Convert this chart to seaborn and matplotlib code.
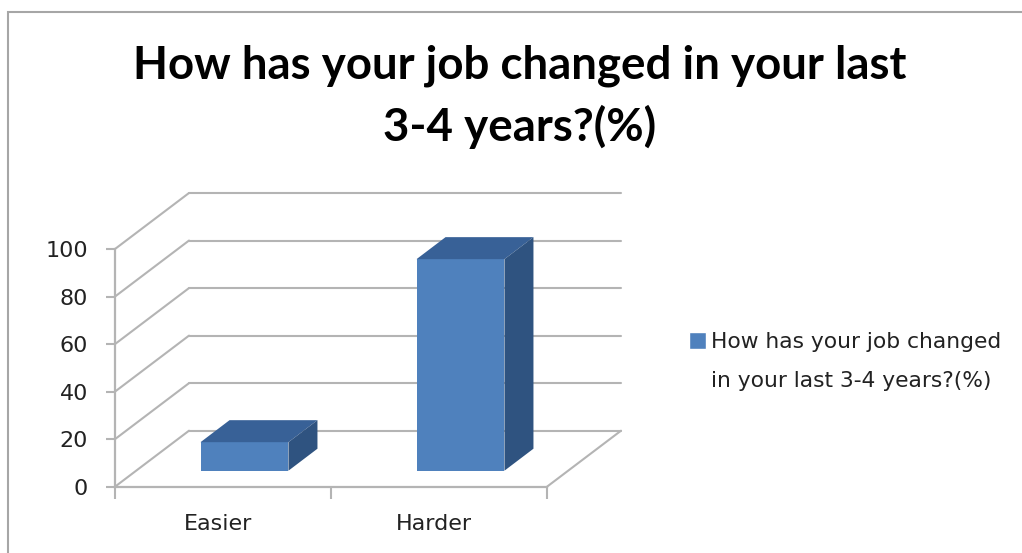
import matplotlib
matplotlib.use("Agg")
import matplotlib.pyplot as plt
import pandas as pd
import seaborn as sns
from matplotlib.lines import Line2D
from matplotlib.patches import Patch, Polygon, Rectangle
from matplotlib.transforms import Affine2D

categories = ["Easier", "Harder"]
values = [12, 89]
y_ticks = [0, 20, 40, 60, 80, 100]
title_lines = ["How has your job changed in your last", "3-4 years?(%)"]
legend_lines = ["How has your job changed", "in your last 3-4 years?(%)"]

FRONT = "#4f81bd"
TOP = "#386197"
SIDE = "#2f5380"
GRID = "#b4b4b4"
W, H = 1022, 553

# pixel offsets used to fake the 3d look
WALL_DX, WALL_DY = 74, 56
BAR_SHIFT = (21.5, 16)
BAR_DX, BAR_DY = 29, 22

sns.set_theme(style="white")
fig = plt.figure(figsize=(W / 100, H / 100), dpi=100)
ax = fig.add_axes([115 / W, (H - 486.7) / H, 432 / W, 237.7 / H])
ax.patch.set_alpha(0)

df = pd.DataFrame({"answer": categories, "percent": values})
sns.barplot(data=df, x="answer", y="percent", color=FRONT, saturation=1, width=0.407, linewidth=0, ax=ax, zorder=3)

ax.set_xlim(-0.5, 1.5)
ax.set_ylim(0, 100)
ax.set_xlabel("")
ax.set_ylabel("")
ax.set_yticks(y_ticks)
ax.set_xticks([-0.5, 0.5, 1.5], labels=[])
ax.set_xticks([0, 1], labels=categories, minor=True)
ax.tick_params(axis="y", left=True, length=6.5, width=1.5, color=GRID, labelsize=16, labelcolor="#222222", pad=13)
ax.tick_params(axis="x", which="major", bottom=True, length=8.6, width=1.5, color=GRID)
ax.tick_params(axis="x", which="minor", bottom=False, length=0, labelsize=16, labelcolor="#222222", pad=19.5)
for label in ax.get_xticklabels(minor=True):
    label.set_transform(label.get_transform() + Affine2D().translate(-5, 0))
for name, spine in ax.spines.items():
    spine.set_visible(name in ("left", "bottom"))
    spine.set_color(GRID)
    spine.set_linewidth(1.6)

# back wall and side wall
back = ax.transData + Affine2D().translate(WALL_DX, WALL_DY)
for v in y_ticks:
    ax.plot([1.5, -0.5], [v, v], transform=back, color=GRID, lw=1.5, clip_on=False, zorder=1)
    x0, y0 = ax.transData.transform((-0.5, v))
    ax.add_line(Line2D([x0, x0 + WALL_DX], [y0, y0 + WALL_DY], transform=None, color=GRID, lw=1.5, zorder=1, clip_on=False))
x0, y0 = ax.transData.transform((1.5, 0))
ax.add_line(Line2D([x0, x0 + WALL_DX], [y0, y0 + WALL_DY], transform=None, color=GRID, lw=1.5, zorder=1, clip_on=False))

# push the bars back from the front plane and give them depth
shift = Affine2D().translate(*BAR_SHIFT)
for bar in list(ax.patches):
    bar.set_transform(ax.transData + shift)
    bar.set_clip_on(False)
    (x1, y1), (x2, y2) = (ax.transData + shift).transform(
        [(bar.get_x(), 0), (bar.get_x() + bar.get_width(), bar.get_height())]
    )
    ax.add_patch(Polygon([(x1, y2), (x2, y2), (x2 + BAR_DX, y2 + BAR_DY), (x1 + BAR_DX, y2 + BAR_DY)],
                         transform=None, facecolor=TOP, edgecolor="none", zorder=3, clip_on=False))
    ax.add_patch(Polygon([(x2, y1), (x2 + BAR_DX, y1 + BAR_DY), (x2 + BAR_DX, y2 + BAR_DY), (x2, y2)],
                         transform=None, facecolor=SIDE, edgecolor="none", zorder=3, clip_on=False))

for line, ypix in zip(title_lines, [66, 127]):
    fig.text(520 / W, 1 - ypix / H, line, ha="center", va="center", family="Lato",
             fontweight="bold", fontsize=32.9, color="black")

handles = [Patch(facecolor=FRONT), Patch(facecolor="none", edgecolor="none")]
fig.legend(handles, legend_lines, loc="upper left", bbox_to_anchor=(689 / W, 1 - 332 / H), frameon=False,
           fontsize=15.7, labelcolor="#222222", handlelength=0.78, handleheight=0.78, handletextpad=0.23,
           labelspacing=0.85, borderpad=0, borderaxespad=0)

# chart area border, cropped by the picture edge
fig.add_artist(Rectangle((8 / W, -0.1), 1.1, 1.1 - 12 / H, transform=fig.transFigure, facecolor="none",
                         edgecolor="#a6a6a6", lw=1.5))

fig.savefig("out.png", dpi=100)
